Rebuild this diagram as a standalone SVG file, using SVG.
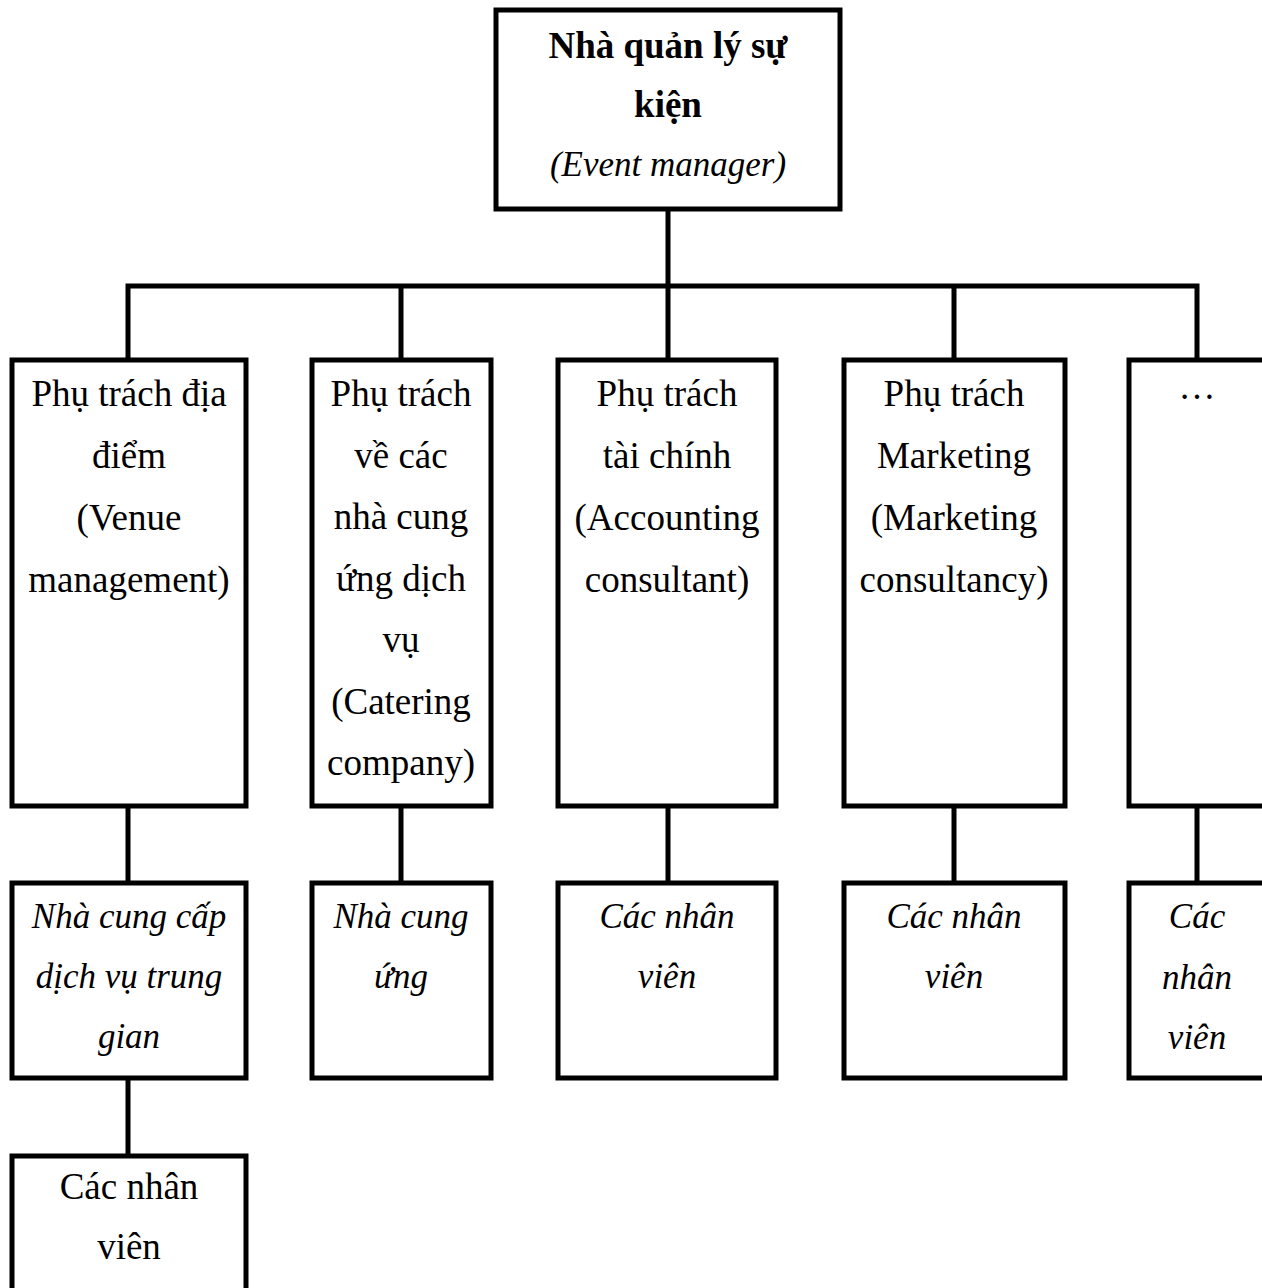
<svg xmlns="http://www.w3.org/2000/svg" width="1262" height="1288" viewBox="0 0 1262 1288">
<style>
.box{fill:#fff;stroke:#000;stroke-width:5}
.ln{fill:none;stroke:#000;stroke-width:5;stroke-linecap:square}
text{font-family:"Liberation Serif","Times New Roman",serif;font-size:37px;fill:#000;text-anchor:middle}
.b{font-weight:bold}
.i{font-style:italic;font-size:35px}
</style>
<rect width="1262" height="1288" fill="#fff"/>
<g id="connectors">
<path class="ln" d="M668 209V286M128 286H1197M128 286V360M401 286V360M668 286V360M954 286V360M1197 286V360"/>
<path class="ln" d="M128 806V883M401 806V883M668 806V883M954 806V883M1197 806V883M128 1078V1156"/>
</g>
<g id="event-manager">
<rect class="box" x="496" y="10" width="344" height="199"/>
<text class="b" x="668" y="58">Nhà quản lý sự</text>
<text class="b" x="668" y="117">kiện</text>
<text class="i" x="668" y="176">(Event manager)</text>
</g>
<g id="venue">
<rect class="box" x="12" y="360" width="234" height="446"/>
<text x="129" y="406">Phụ trách địa</text>
<text x="129" y="468">điểm</text>
<text x="129" y="530">(Venue</text>
<text x="129" y="592">management)</text>
</g>
<g id="catering">
<rect class="box" x="312" y="360" width="179" height="446"/>
<text x="401" y="406">Phụ trách</text>
<text x="401" y="467.5">về các</text>
<text x="401" y="529">nhà cung</text>
<text x="401" y="590.5">ứng dịch</text>
<text x="401" y="652">vụ</text>
<text x="401" y="713.5">(Catering</text>
<text x="401" y="775">company)</text>
</g>
<g id="accounting">
<rect class="box" x="558" y="360" width="218" height="446"/>
<text x="667" y="406">Phụ trách</text>
<text x="667" y="468">tài chính</text>
<text x="667" y="530">(Accounting</text>
<text x="667" y="592">consultant)</text>
</g>
<g id="marketing">
<rect class="box" x="844" y="360" width="221" height="446"/>
<text x="954" y="406">Phụ trách</text>
<text x="954" y="468">Marketing</text>
<text x="954" y="530">(Marketing</text>
<text x="954" y="592">consultancy)</text>
</g>
<g id="other">
<rect class="box" x="1129" y="360" width="150" height="446"/>
<text x="1197" y="399">…</text>
</g>
<g id="intermediary">
<rect class="box" x="12" y="883" width="234" height="195"/>
<text class="i" x="129" y="928">Nhà cung cấp</text>
<text class="i" x="129" y="988">dịch vụ trung</text>
<text class="i" x="129" y="1048">gian</text>
</g>
<g id="suppliers">
<rect class="box" x="312" y="883" width="179" height="195"/>
<text class="i" x="401" y="928">Nhà cung</text>
<text class="i" x="401" y="988">ứng</text>
</g>
<g id="staff-accounting">
<rect class="box" x="558" y="883" width="218" height="195"/>
<text class="i" x="667" y="928">Các nhân</text>
<text class="i" x="667" y="988">viên</text>
</g>
<g id="staff-marketing">
<rect class="box" x="844" y="883" width="221" height="195"/>
<text class="i" x="954" y="928">Các nhân</text>
<text class="i" x="954" y="988">viên</text>
</g>
<g id="staff-other">
<rect class="box" x="1129" y="883" width="150" height="195"/>
<text class="i" x="1197" y="928">Các</text>
<text class="i" x="1197" y="989">nhân</text>
<text class="i" x="1197" y="1049">viên</text>
</g>
<g id="staff-venue">
<rect class="box" x="12" y="1156" width="234" height="150"/>
<text x="129" y="1199">Các nhân</text>
<text x="129" y="1259">viên</text>
</g>
</svg>
